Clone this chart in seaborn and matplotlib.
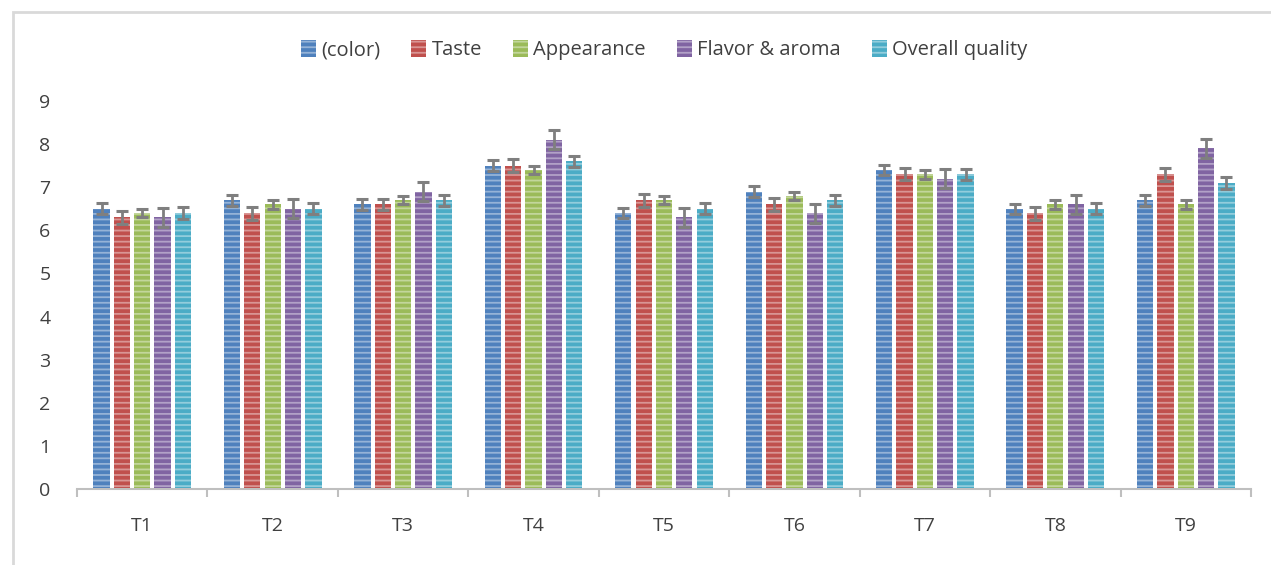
import numpy as np
import pandas as pd
import matplotlib
matplotlib.use("Agg")
import matplotlib.pyplot as plt
import seaborn as sns
from matplotlib.patches import Rectangle

categories = ["T1", "T2", "T3", "T4", "T5", "T6", "T7", "T8", "T9"]
series = ["(color)", "Taste", "Appearance", "Flavor & aroma", "Overall quality"]

color_vals = [6.5, 6.7, 6.6, 7.5, 6.4, 6.9, 7.4, 6.5, 6.7]
taste_vals = [6.3, 6.4, 6.6, 7.5, 6.7, 6.6, 7.3, 6.4, 7.3]
appear_vals = [6.4, 6.6, 6.7, 7.4, 6.7, 6.8, 7.3, 6.6, 6.6]
flavor_vals = [6.3, 6.5, 6.9, 8.1, 6.3, 6.4, 7.2, 6.6, 7.9]
overall_vals = [6.4, 6.5, 6.7, 7.6, 6.5, 6.7, 7.3, 6.5, 7.1]

color_err = [0.13, 0.13, 0.12, 0.13, 0.12, 0.13, 0.12, 0.12, 0.13]
taste_err = [0.15, 0.15, 0.13, 0.15, 0.15, 0.15, 0.14, 0.15, 0.15]
appear_err = [0.10, 0.10, 0.10, 0.10, 0.10, 0.10, 0.10, 0.10, 0.10]
flavor_err = [0.22, 0.22, 0.22, 0.22, 0.22, 0.22, 0.22, 0.22, 0.23]
overall_err = [0.13, 0.13, 0.13, 0.13, 0.13, 0.13, 0.13, 0.13, 0.13]

palette = ["#4F81BD", "#C0504D", "#9BBB59", "#8064A2", "#4BACC6"]

vals = [color_vals, taste_vals, appear_vals, flavor_vals, overall_vals]
errs = [color_err, taste_err, appear_err, flavor_err, overall_err]

rows = []
for s, v, e in zip(series, vals, errs):
    for c, vi, ei in zip(categories, v, e):
        rows.append({"Treatment": c, "Series": s, "Value": vi, "Err": ei})
df = pd.DataFrame(rows)

sns.set_theme(style="white")
plt.rcParams["font.family"] = ["Open Sans", "DejaVu Sans"]
plt.rcParams["hatch.linewidth"] = 1.3

fig = plt.figure(figsize=(12.71, 5.65), dpi=100)
ax = fig.add_axes([77 / 1271, 1 - 489 / 565, (1251 - 77) / 1271, (489 - 101) / 565])

sns.barplot(data=df, x="Treatment", y="Value", hue="Series", hue_order=series,
            order=categories, palette=palette, width=0.78, gap=0.2,
            errorbar=None, ax=ax, saturation=1, linewidth=0)

for patch in ax.patches:
    patch.set_hatch("---")
    patch.set_edgecolor((1, 1, 1, 0.4))

# error bars
for i, s in enumerate(series):
    cont = ax.containers[i]
    sub = df[df["Series"] == s].set_index("Treatment").loc[categories]
    xs = [b.get_x() + b.get_width() / 2 for b in cont]
    ax.errorbar(xs, sub["Value"].values, yerr=sub["Err"].values, fmt="none",
                ecolor="#7F7F7F", elinewidth=2, capsize=4.5, capthick=2.2, zorder=5)

ax.set_ylim(0, 9)
ax.set_xlim(-0.5, 8.5)
ax.set_yticks(range(0, 10))
ax.set_xlabel("")
ax.set_ylabel("")
for sp in ["top", "right", "left"]:
    ax.spines[sp].set_visible(False)
ax.spines["bottom"].set_color("#BFBFBF")
ax.spines["bottom"].set_linewidth(1.5)
ax.tick_params(axis="x", which="major", length=0, pad=20, labelsize=14, labelcolor="#404040")
ax.tick_params(axis="y", length=0, pad=19, labelsize=14, labelcolor="#404040")
ax.set_xticks(np.arange(-0.5, 9, 1), minor=True)
ax.tick_params(axis="x", which="minor", length=6, width=1.5, color="#BFBFBF", bottom=True)

handles, labels = ax.get_legend_handles_labels()
ax.legend(handles, labels, loc="center", bbox_to_anchor=(0.5, (489 - 50) / 388),
          ncol=5, frameon=False, fontsize=14.5, handlelength=0.75, handleheight=0.9,
          handletextpad=0.25, columnspacing=1.55, labelcolor="#404040")

fig.patches.append(Rectangle((13 / 1271, -0.1), 1.2, 1 - 12 / 565 + 0.1,
                             transform=fig.transFigure, fill=False,
                             edgecolor="#D9D9D9", linewidth=2, zorder=0))

fig.savefig("out.png", dpi=100)
